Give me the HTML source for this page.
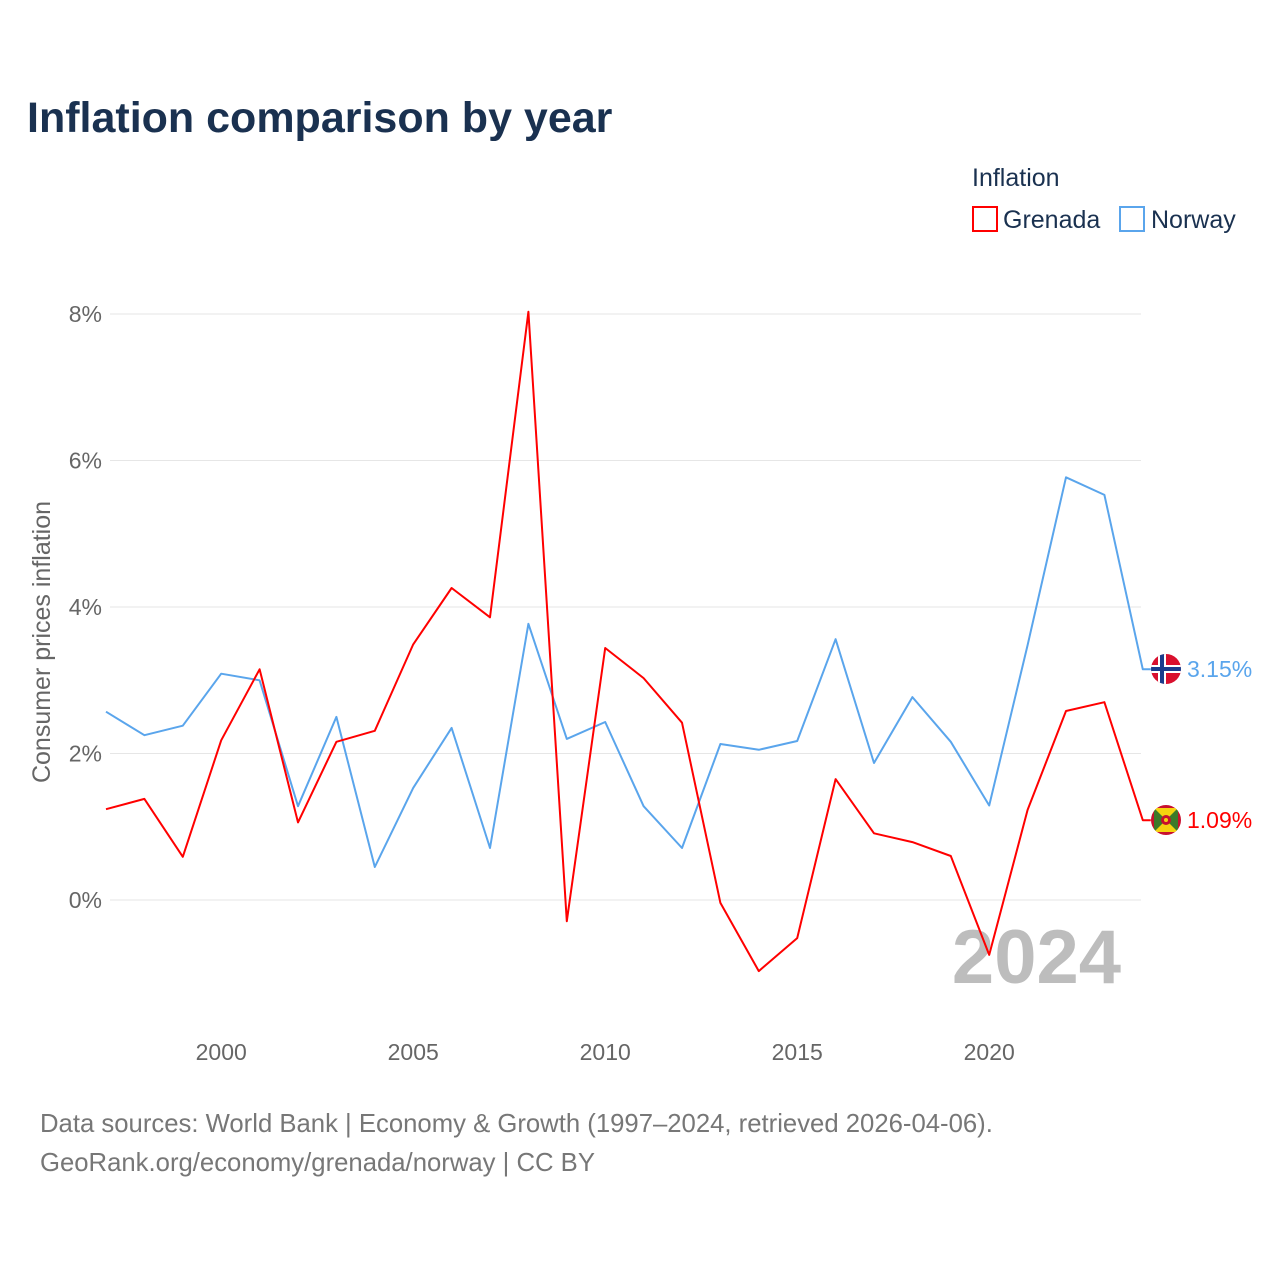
<!DOCTYPE html>
<html><head><meta charset="utf-8">
<style>
body{margin:0;background:#fff;font-family:"Liberation Sans",sans-serif;}
svg text{font-family:"Liberation Sans",sans-serif;}
</style></head>
<body>
<svg id="chart" width="1280" height="1280" viewBox="0 0 1280 1280" xmlns="http://www.w3.org/2000/svg">
<rect width="1280" height="1280" fill="#fff"/>
<text x="27" y="132" font-size="43" font-weight="bold" fill="#1a3150">Inflation comparison by year</text>
<text x="972" y="186" font-size="25" fill="#1a3150">Inflation</text>
<g>
<rect x="973" y="207" width="24" height="24" fill="none" stroke="#ff0000" stroke-width="2"/>
<text x="1003" y="228" font-size="25" fill="#1a3150">Grenada</text>
</g>
<g>
<rect x="1120" y="207" width="24" height="24" fill="none" stroke="#5aa5ec" stroke-width="2"/>
<text x="1151" y="228" font-size="25" fill="#1a3150">Norway</text>
</g>
<g id="grid"></g>
<g id="yticks"></g>
<g id="xticks"></g>
<text transform="translate(50,642) rotate(-90)" text-anchor="middle" font-size="25" fill="#666">Consumer prices inflation</text>
<text x="1121" y="983" text-anchor="end" font-size="76" font-weight="bold" fill="#bdbdbd">2024</text>
<g id="series"></g>
<g>
<clipPath id="cn"><circle cx="1166" cy="669" r="15"/></clipPath>
<g clip-path="url(#cn)"><rect x="1150" y="653" width="32" height="32" fill="#d9102e"/><rect x="1150" y="665" width="32" height="8" fill="#fff"/><rect x="1158" y="653" width="8" height="32" fill="#fff"/><rect x="1150" y="667" width="32" height="4" fill="#1b3c8c"/><rect x="1160" y="653" width="4" height="32" fill="#1b3c8c"/></g>
</g>
<g>
<clipPath id="cg"><circle cx="1166" cy="820" r="15"/></clipPath>
<g clip-path="url(#cg)"><rect x="1150" y="804" width="32" height="32" fill="#c8102e"/><rect x="1154" y="808" width="24" height="24" fill="#f5d30f"/><polygon points="1154,808 1166,820 1154,832" fill="#3c7a2a"/><polygon points="1178,808 1166,820 1178,832" fill="#3c7a2a"/><circle cx="1166" cy="820" r="5" fill="#c8102e"/><circle cx="1166" cy="820" r="2" fill="#f5d30f"/></g>
</g>
<text x="1187" y="677" font-size="23" fill="#5aa5ec">3.15%</text>
<text x="1187" y="828" font-size="23" fill="#ff0000">1.09%</text>
<text x="40" y="1132" font-size="25.7" fill="#777">Data sources: World Bank | Economy &amp; Growth (1997–2024, retrieved 2026-04-06).</text>
<text x="40" y="1171" font-size="25.7" fill="#777">GeoRank.org/economy/grenada/norway | CC BY</text>
</svg>
<script>
const years=[1997,1998,1999,2000,2001,2002,2003,2004,2005,2006,2007,2008,2009,2010,2011,2012,2013,2014,2015,2016,2017,2018,2019,2020,2021,2022,2023,2024];
const grenada=[1.24,1.38,0.59,2.18,3.15,1.06,2.16,2.31,3.49,4.26,3.86,8.03,-0.29,3.44,3.03,2.42,-0.04,-0.97,-0.52,1.65,0.91,0.79,0.60,-0.75,1.23,2.58,2.70,1.09];
const norway=[2.57,2.25,2.38,3.09,3.00,1.28,2.50,0.45,1.53,2.35,0.71,3.77,2.20,2.43,1.28,0.71,2.13,2.05,2.17,3.56,1.87,2.77,2.16,1.29,3.48,5.77,5.53,3.15];
const yTicks=[0,2,4,6,8];
const yTickLabels=["0%","2%","4%","6%","8%"];
const xTicks=[2000,2005,2010,2015,2020];
const NS="http://www.w3.org/2000/svg";
function xs(y){return 106+(y-1997)*38.4;}
function ys(v){return 900-v*73.25;}
function mk(tag,attrs,parent){const e=document.createElementNS(NS,tag);for(const k in attrs)e.setAttribute(k,attrs[k]);parent.appendChild(e);return e;}
const grid=document.getElementById('grid'),yt=document.getElementById('yticks'),xt=document.getElementById('xticks'),ser=document.getElementById('series');
yTicks.forEach((v,i)=>{
 const l=mk('line',{x1:110,x2:1141,y1:ys(v),y2:ys(v),stroke:'#e6e6e6','stroke-width':1},grid);
 
 
 const t=mk('text',{x:102,y:ys(v)+8,'text-anchor':'end','font-size':23,fill:'#666'},yt);
 t.textContent=yTickLabels[i];
 
 
});
xTicks.forEach(y=>{
 const t=mk('text',{x:xs(y),y:1060,'text-anchor':'middle','font-size':23,fill:'#666'},xt);
 t.textContent=y;
 
 
});
function line(vals,color,name){
 let d=vals.map((v,i)=>(i?'L':'M')+xs(years[i]).toFixed(1)+','+ys(v).toFixed(1)).join(' ');
 const last=vals[vals.length-1];
 d+=' L'+(xs(years[years.length-1])+8)+','+ys(last).toFixed(1);
 const p=mk('path',{d:d,fill:'none',stroke:color,'stroke-width':2,'stroke-linejoin':'round'},ser);
 
 
}
line(norway,'#5aa5ec','norway-line');
line(grenada,'#ff0000','grenada-line');
</script>
</body></html>
